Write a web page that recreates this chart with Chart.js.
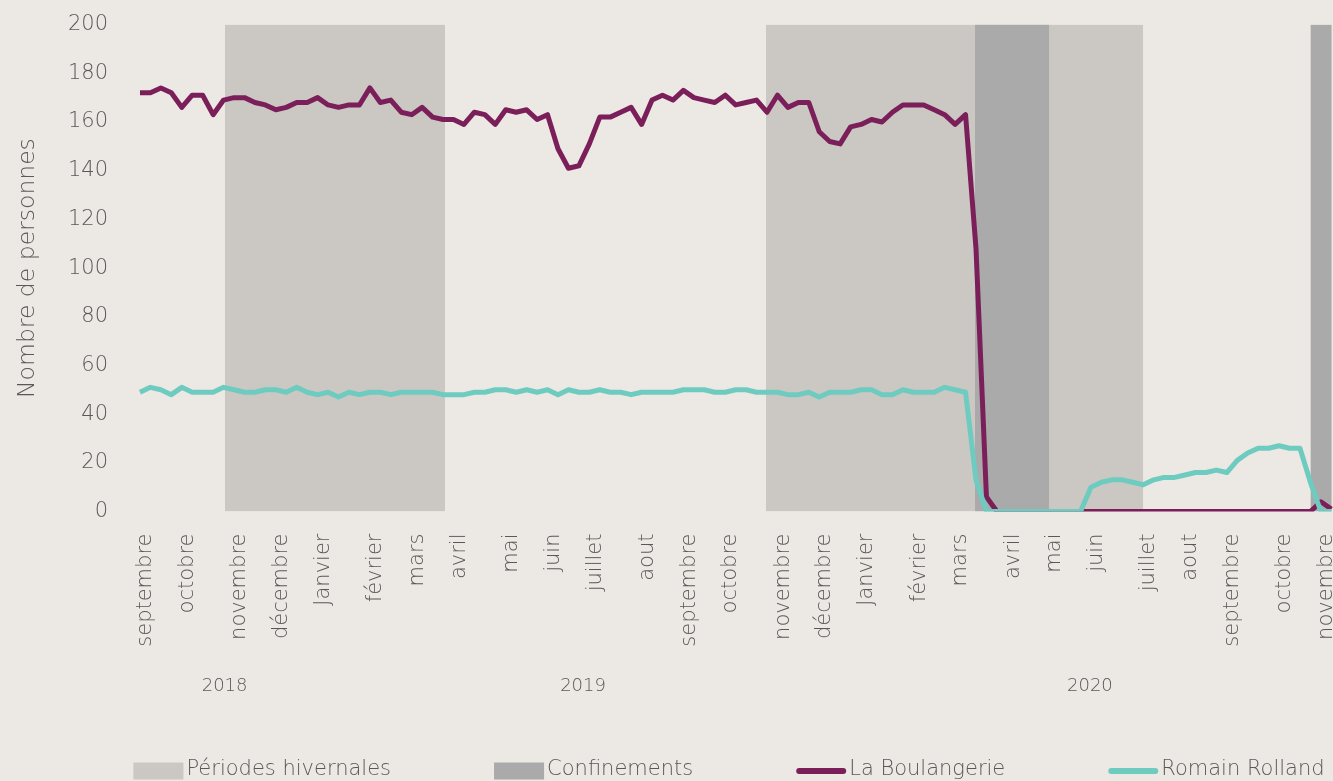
<!DOCTYPE html>
<html lang="fr">
<head>
<meta charset="utf-8">
<title>Nombre de personnes – La Boulangerie / Romain Rolland</title>
<script src="https://cdn.jsdelivr.net/npm/chart.js@4.4.1/dist/chart.umd.min.js"></script>
<style>
  html, body { margin: 0; padding: 0; background: #ECE8E3; overflow: hidden; }
  #wrap { width: 1333px; height: 781px; }
  canvas { display: block; }
</style>
</head>
<body>
<div id="wrap"><canvas id="c" width="1333" height="781"></canvas></div>
<script>
// ---------- DATA (one value per week, week 0 = first week of September 2018) ----------
const boulangerie = [
  172,172,174,172,166,171,171,163,169,170,
  170,168,167,165,166,168,168,170,167,166,
  167,167,174,168,169,164,163,166,162,161,
  161,159,164,163,159,165,164,165,161,163,
  149,141,142,151,162,162,164,166,159,169,
  171,169,173,170,169,168,171,167,168,169,
  164,171,166,168,168,156,152,151,158,159,
  161,160,164,167,167,167,165,163,159,163,
  108,6,0,0,0,0,0,0,0,0,
  0,0,0,0,0,0,0,0,0,0,
  0,0,0,0,0,0,0,0,0,0,
  0,0,0,4,1
];
const romainRolland = [
  49,51,50,48,51,49,49,49,51,50,
  49,49,50,50,49,51,49,48,49,47,
  49,48,49,49,48,49,49,49,49,48,
  48,48,49,49,50,50,49,50,49,50,
  48,50,49,49,50,49,49,48,49,49,
  49,49,50,50,50,49,49,50,50,49,
  49,49,48,48,49,47,49,49,49,50,
  50,48,48,50,49,49,49,51,50,49,
  13,0,0,0,0,0,0,0,0,0,
  0,10,12,13,13,12,11,13,14,14,
  15,16,16,17,16,21,24,26,26,27,
  26,26,12,0,0
];
// month tick labels and the week at which each month starts
const monthLabels = ['septembre','octobre','novembre','décembre','Janvier','février','mars','avril','mai','juin','juillet','aout',
                     'septembre','octobre','novembre','décembre','Janvier','février','mars','avril','mai','juin','juillet','aout',
                     'septembre','octobre','novembre'];
const monthTickWeeks = [0,4,9,13,17,22,26,30,35,39,43,48,52,56,61,65,69,74,78,83,87,91,96,100,104,109,113];
// year labels (centred under their group of weeks)
const yearLabels = ['2018','2019','2020'];
const yearTickWeeks = [8.1, 42.4, 90.9];
// shaded periods, in weeks
const winterPeriods = [[8.13, 29.19], [59.9, 96.0]];
const lockdownPeriods = [[79.9, 87.0], [112.0, 114.04]];
// y axis
const yMin = 0, yMax = 200, yStep = 20;
// visible week range
const weekMin = -1.91, weekMax = 114.16;

// ---------- STYLE ----------
const COL_TEXT = '#595959';
const COL_WINTER = '#CBC8C3';
const COL_LOCK = '#AAAAAA';
const COL_BOUL = '#7B1F5A';
const COL_RR = '#6DCBBF';
const FONT = "'DejaVu Sans', sans-serif";
const MONTH_LABEL_SHIFT = 0.55;   // labels sit slightly right of their week

Chart.defaults.font.family = FONT;
Chart.defaults.font.weight = 200;
Chart.defaults.color = COL_TEXT;

function bandDataset(range, label, color, order, inLegend) {
  return {
    type: 'line', label, order, inLegend, legendKind: 'band',
    data: [{x: range[0], y: yMax}, {x: range[1], y: yMax}],
    borderWidth: 0, borderColor: 'rgba(0,0,0,0)', backgroundColor: color,
    fill: 'origin', pointRadius: 0, tension: 0
  };
}
function lineDataset(values, label, color, order) {
  return {
    type: 'line', label, order, inLegend: true, legendKind: 'line',
    data: values.map((v, i) => ({x: i, y: v})),
    borderColor: color, backgroundColor: color, borderWidth: 5,
    borderJoinStyle: 'round', borderCapStyle: 'butt',
    pointRadius: 0, tension: 0, fill: false
  };
}

const datasets = [
  ...winterPeriods.map((r, k) => bandDataset(r, 'Périodes hivernales', COL_WINTER, 4, k === 0)),
  ...lockdownPeriods.map((r, k) => bandDataset(r, 'Confinements', COL_LOCK, 3, k === 0)),
  lineDataset(boulangerie, 'La Boulangerie', COL_BOUL, 2),
  lineDataset(romainRolland, 'Romain Rolland', COL_RR, 1)
];

// legend drawn along the bottom, one entry per kind of series
const bottomLegend = {
  id: 'bottomLegend',
  afterDraw(chart) {
    const ctx = chart.ctx;
    const items = chart.data.datasets.filter(ds => ds.inLegend);
    const boxW = 50, boxH = 17, gapText = 3, gapItem = 103, cx = 729, cy = 770;
    ctx.save();
    ctx.font = `200 21px ${FONT}`;
    ctx.textBaseline = 'middle';
    ctx.textAlign = 'left';
    const widths = items.map(ds => boxW + gapText + ctx.measureText(ds.label).width);
    const total = widths.reduce((a, b) => a + b, 0) + gapItem * (items.length - 1);
    let x = cx - total / 2;
    items.forEach((ds, k) => {
      if (ds.legendKind === 'band') {
        ctx.fillStyle = ds.backgroundColor;
        ctx.fillRect(x, cy - boxH / 2 + 1, boxW, boxH);
      } else {
        ctx.strokeStyle = ds.borderColor;
        ctx.lineWidth = 6;
        ctx.lineCap = 'round';
        ctx.beginPath();
        ctx.moveTo(x + 3, cy + 1);
        ctx.lineTo(x + boxW - 3, cy + 1);
        ctx.stroke();
      }
      ctx.fillStyle = COL_TEXT;
      ctx.fillText(ds.label, x + boxW + gapText, cy);
      x += widths[k] + gapItem;
    });
    ctx.restore();
  }
};

new Chart(document.getElementById('c'), {
  type: 'line',
  data: { datasets },
  plugins: [bottomLegend],
  options: {
    responsive: false,
    animation: false,
    devicePixelRatio: 1,
    events: [],
    layout: { padding: { top: 21, right: 0, bottom: 73.5, left: 0 } },
    scales: {
      y: {
        min: yMin, max: yMax,
        ticks: { stepSize: yStep, padding: 12, color: COL_TEXT, font: { size: 21 } },
        grid: { display: false, drawTicks: false },
        border: { display: false },
        title: { display: true, text: 'Nombre de personnes', color: COL_TEXT,
                 font: { size: 23.5 }, padding: { top: 14, bottom: 0 } },
        afterFit(s) { s.width = 120; }
      },
      x: {
        type: 'linear', min: weekMin, max: weekMax, weight: 0,
        afterBuildTicks(s) { s.ticks = monthTickWeeks.map(v => ({ value: v + MONTH_LABEL_SHIFT })); },
        ticks: {
          autoSkip: false, minRotation: 90, maxRotation: 90, padding: 22,
          color: COL_TEXT, font: { size: 21 },
          callback: (v, i) => monthLabels[i]
        },
        grid: { display: false, drawTicks: false },
        border: { display: false },
        afterFit(s) { s.height = 145; s.paddingLeft = 0; s.paddingRight = 0; }
      },
      x2: {
        type: 'linear', axis: 'x', position: 'bottom', min: weekMin, max: weekMax, weight: 1,
        afterBuildTicks(s) { s.ticks = yearTickWeeks.map(v => ({ value: v })); },
        ticks: {
          autoSkip: false, minRotation: 0, maxRotation: 0, padding: 19,
          color: COL_TEXT, font: { size: 18 },
          callback: (v, i) => yearLabels[i]
        },
        grid: { display: false, drawTicks: false },
        border: { display: false },
        afterFit(s) { s.height = 51; s.paddingLeft = 0; s.paddingRight = 0; }
      }
    },
    plugins: {
      tooltip: { enabled: false },
      legend: { display: false }
    }
  }
});
</script>
</body>
</html>
